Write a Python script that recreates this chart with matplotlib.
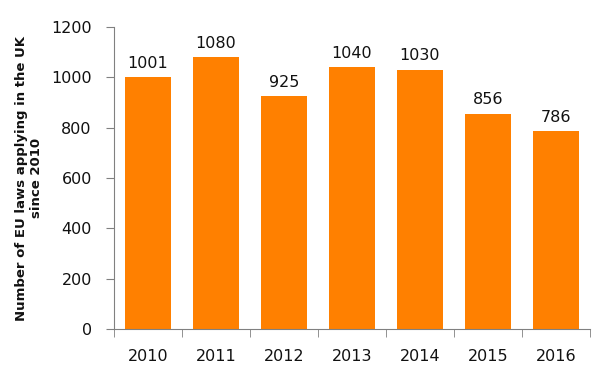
import matplotlib
matplotlib.use("Agg")
import matplotlib.pyplot as plt
import numpy as np

years = ["2010", "2011", "2012", "2013", "2014", "2015", "2016"]
laws = [1001, 1080, 925, 1040, 1030, 856, 786]

fig = plt.figure(figsize=(6, 3.8), dpi=100)
ax = fig.add_axes([0.19, 0.134, 0.7933, 0.795])

x = np.arange(len(years))
bars = ax.bar(x, laws, width=0.68, color="#FF8000", zorder=2)
for xi, v in zip(x, laws):
    ax.text(xi, v + 25, str(v), ha="center", va="bottom", fontsize=11.5, color="#111111")

ax.set_xlim(-0.5, len(years) - 0.5)
ax.set_ylim(0, 1200)
ax.set_yticks(range(0, 1201, 200))
ax.set_xticks(x)
ax.set_xticklabels(years)
ax.set_xticks(np.arange(-0.5, len(years), 1), minor=True)
ax.tick_params(axis="x", which="major", length=0, pad=14, labelsize=11.5, labelcolor="#111111")
ax.tick_params(axis="x", which="minor", length=6, color="#808080")
ax.tick_params(axis="y", length=6, color="#808080", labelsize=11.5, labelcolor="#111111", pad=10)

for s in ["top", "right"]:
    ax.spines[s].set_visible(False)
for s in ["left", "bottom"]:
    ax.spines[s].set_color("#808080")

ax.set_ylabel("Number of EU laws applying in the UK\nsince 2010", fontsize=9.5,
              fontweight="bold", color="#111111", labelpad=6)

fig.savefig("out.png", dpi=100)
